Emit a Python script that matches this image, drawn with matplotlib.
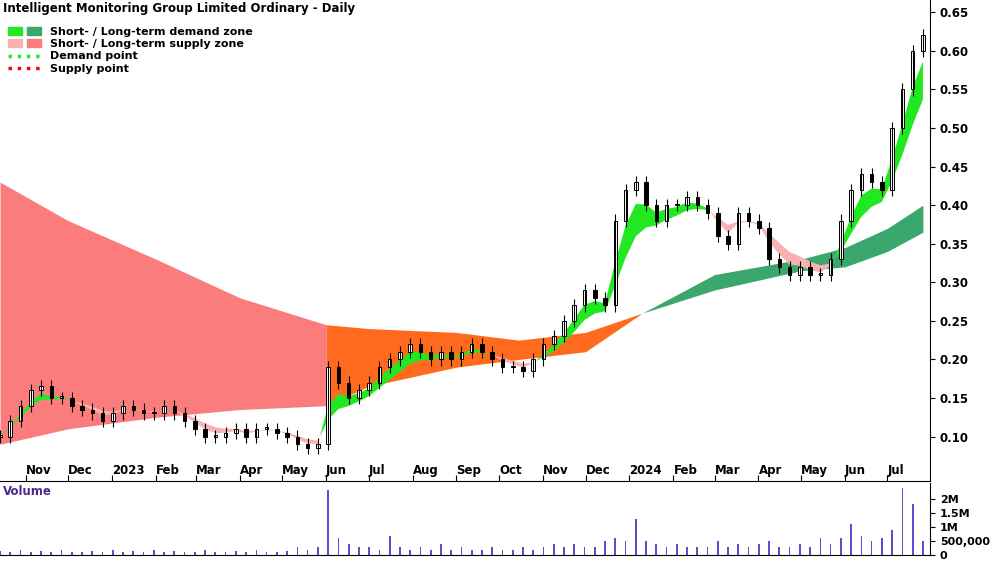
import numpy as np
import pandas as pd
import matplotlib.pyplot as plt
import matplotlib.dates as mdates
from matplotlib.patches import Rectangle
from matplotlib.lines import Line2D
from matplotlib.legend_handler import HandlerTuple

# weekly closes
closes = [0.10, 0.12,
          0.14, 0.16, 0.165, 0.15,
          0.15, 0.14, 0.135, 0.13,
          0.12, 0.13, 0.14, 0.135, 0.13,
          0.13, 0.14, 0.13, 0.12,
          0.11, 0.10, 0.10, 0.105, 0.11,
          0.10, 0.11, 0.11, 0.105,
          0.10, 0.09, 0.085, 0.09,
          0.19, 0.17, 0.15, 0.16,
          0.17, 0.19, 0.20, 0.21,
          0.22, 0.21, 0.20, 0.21, 0.20,
          0.21, 0.22, 0.21, 0.20,
          0.19, 0.19, 0.185, 0.20, 0.22,
          0.23, 0.25, 0.27, 0.29,
          0.28, 0.27, 0.38, 0.42,
          0.43, 0.40, 0.38, 0.40,
          0.40, 0.41, 0.40, 0.39,
          0.36, 0.35, 0.39, 0.38,
          0.37, 0.33, 0.32, 0.31,
          0.32, 0.31, 0.31, 0.33,
          0.38, 0.42, 0.44, 0.43,
          0.42, 0.50, 0.55, 0.60, 0.62]
volumes = [0.15, 0.1, 0.2, 0.1, 0.15, 0.1, 0.2, 0.1, 0.1, 0.15, 0.1, 0.2, 0.1, 0.15,
           0.1, 0.2, 0.1, 0.15, 0.1, 0.1, 0.2, 0.1, 0.1, 0.15, 0.1, 0.2, 0.1, 0.1,
           0.15, 0.3, 0.2, 0.3, 2.3, 0.6, 0.4, 0.3, 0.3, 0.2, 0.7, 0.3, 0.2, 0.3,
           0.2, 0.4, 0.2, 0.3, 0.2, 0.2, 0.3, 0.2, 0.2, 0.3, 0.2, 0.3, 0.4, 0.3,
           0.4, 0.3, 0.3, 0.5, 0.6, 0.5, 1.3, 0.5, 0.4, 0.3, 0.4, 0.3, 0.3, 0.3,
           0.5, 0.3, 0.4, 0.3, 0.4, 0.5, 0.3, 0.3, 0.4, 0.3, 0.6, 0.4, 0.6, 1.1,
           0.7, 0.5, 0.6, 0.9, 2.4, 1.8, 0.5]

# long-term zone edges (monthly readings)
long_dates = ['2022-10-14', '2022-12-01', '2023-02-01', '2023-04-01', '2023-06-01',
              '2023-07-01', '2023-09-01', '2023-10-15', '2023-12-01', '2024-01-10',
              '2024-03-01', '2024-05-01', '2024-06-01', '2024-07-01', '2024-07-26']
long_top = [0.43, 0.38, 0.33, 0.28, 0.245, 0.24, 0.235, 0.225, 0.235, 0.26,
            0.31, 0.33, 0.345, 0.37, 0.40]
long_bot = [0.09, 0.11, 0.125, 0.135, 0.14, 0.165, 0.19, 0.20, 0.21, 0.26,
            0.29, 0.315, 0.32, 0.34, 0.365]

dates = pd.date_range('2022-10-14', '2024-07-26', periods=len(closes))
c = pd.Series(closes, index=dates)
fast = c.ewm(span=3).mean()
slow = c.ewm(span=6).mean()
ld = pd.to_datetime(long_dates)

fig = plt.figure(figsize=(10, 5.62), dpi=100)
ax = fig.add_axes([0.0, 0.145, 0.93, 0.855])
vax = fig.add_axes([0.0, 0.012, 0.93, 0.128])

split1, split2 = pd.Timestamp('2023-06-01'), pd.Timestamp('2024-01-10')
for lo, hi, col in [(ld[0], split1, '#fb7c7c'), (split1, split2, '#ff6a1f'), (split2, ld[-1], '#3aa76d')]:
    m = (ld >= lo) & (ld <= hi)
    ax.fill_between(ld[m], np.array(long_bot)[m], np.array(long_top)[m], color=col, lw=0)

up = (fast >= slow).values
ax.fill_between(dates, slow, fast, where=up, color='#22e822', lw=0, interpolate=True)
ax.fill_between(dates, slow, fast, where=~up, color='#f7b3b3', lw=0, interpolate=True)

w = 2.5
opens = [closes[0]] + closes[:-1]
for d, o, cl in zip(dates, opens, closes):
    x = mdates.date2num(d)
    lo, hi = min(o, cl), max(o, cl)
    ax.vlines(x, lo - 0.008, hi + 0.008, color='black', lw=0.8)
    ax.add_patch(Rectangle((x - w / 2, lo), w, max(hi - lo, 0.002),
                           facecolor='white' if cl >= o else 'black', edgecolor='black', lw=0.7))

xlim = (mdates.date2num(pd.Timestamp('2022-10-14')), mdates.date2num(pd.Timestamp('2024-07-31')))
ax.set_xlim(*xlim)
vax.set_xlim(*xlim)
ax.set_ylim(0.043, 0.666)
ax.yaxis.tick_right()
ax.set_yticks(np.arange(0.10, 0.651, 0.05))
ax.yaxis.set_major_formatter(plt.FuncFormatter(lambda v, p: f'{v:.2f}'))
ax.xaxis.set_major_locator(mdates.MonthLocator())
ax.xaxis.set_major_formatter(plt.FuncFormatter(
    lambda v, p: mdates.num2date(v).strftime('%Y' if mdates.num2date(v).month == 1 else '%b')))
ax.tick_params(axis='x', labelsize=8.5, direction='in', pad=-12, length=4)
ax.tick_params(axis='y', labelsize=8.5)
for lbl in ax.get_xticklabels():
    lbl.set_fontweight('bold')
    lbl.set_horizontalalignment('left')
for lbl in ax.get_yticklabels():
    lbl.set_fontweight('bold')
for s in ['top', 'left']:
    ax.spines[s].set_visible(False)
    vax.spines[s].set_visible(False)
ax.text(0.003, 0.995, 'Intelligent Monitoring Group Limited Ordinary - Daily', transform=ax.transAxes,
        va='top', fontsize=8.5, fontweight='bold')

handles = [(Rectangle((0, 0), 1, 1, color='#22e822'), Rectangle((0, 0), 1, 1, color='#3aa76d')),
           (Rectangle((0, 0), 1, 1, color='#f7b3b3'), Rectangle((0, 0), 1, 1, color='#fb7c7c')),
           Line2D([], [], color='#22e822', ls=':', lw=2.5),
           Line2D([], [], color='#e01010', ls=':', lw=2.5)]
leg = ax.legend(handles, ['Short- / Long-term demand zone', 'Short- / Long-term supply zone',
                          'Demand point', 'Supply point'],
                handler_map={tuple: HandlerTuple(ndivide=None, pad=0.4)},
                loc='upper left', bbox_to_anchor=(0.0, 0.96), frameon=False, fontsize=8,
                handlelength=3, labelspacing=0.2, borderaxespad=0.3)
for t in leg.get_texts():
    t.set_fontweight('bold')

vax.bar(dates, np.array(volumes) * 1e6, width=1.2, color='#5a4fcf')
vax.set_ylim(0, 2.55e6)
vax.yaxis.tick_right()
vax.set_yticks([0, 5e5, 1e6, 1.5e6, 2e6])
vax.set_yticklabels(['0', '500,000', '1M', '1.5M', '2M'], fontsize=8, fontweight='bold')
vax.tick_params(axis='x', bottom=False, labelbottom=False)
vax.text(0.003, 0.97, 'Volume', transform=vax.transAxes, va='top', fontsize=8.5,
         fontweight='bold', color='#4b2a8c')

fig.savefig('out.png', dpi=100)
